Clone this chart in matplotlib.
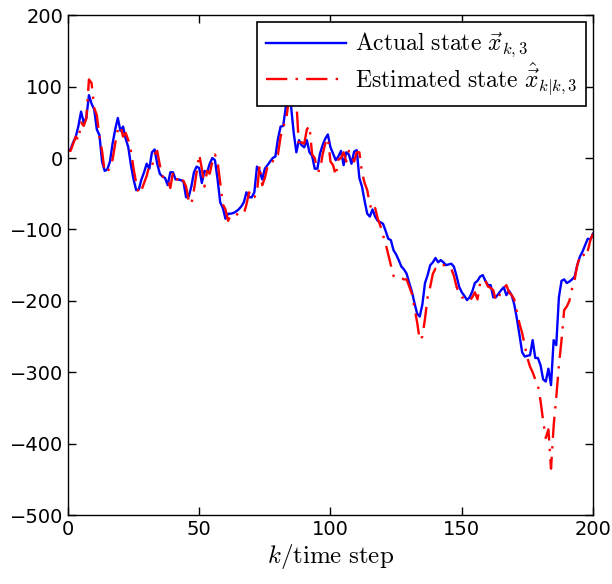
import numpy as np
import matplotlib
matplotlib.use("Agg")
import matplotlib.pyplot as plt

actual = [10, 12, 22, 30, 45, 65, 50, 56, 88, 76,
          68, 40, 32, -5, -18, -16, -5, 20, 40, 56,
          38, 44, 27, 15, -10, -30, -45, -44, -30, -20,
          -8, -15, 8, 12, -8, -22, -26, -28, -38, -20,
          -20, -30, -30, -31, -33, -55, -54, -40, -20, -12,
          -14, -35, -18, -20, -8, 0, -3, -30, -62, -70,
          -85, -78, -78, -77, -75, -72, -68, -62, -48, -55,
          -55, -48, -12, -18, -30, -15, -10, -5, 0, 2,
          27, 44, 45, 72, 82, 72, 35, 8, 25, 18,
          15, 25, 8, 3, -15, -15, 6, 18, 27, 33,
          15, 6, -3, 2, 10, -10, 8, 5, -8, 9,
          11, -28, -40, -60, -78, -82, -72, -82, -88, -90,
          -92, -102, -113, -115, -129, -135, -143, -152, -156, -162,
          -175, -187, -203, -218, -222, -205, -175, -164, -150, -146,
          -140, -146, -143, -146, -150, -149, -148, -152, -165, -180,
          -188, -193, -199, -195, -187, -175, -172, -166, -164, -172,
          -178, -178, -195, -195, -190, -185, -181, -192, -186, -192,
          -205, -225, -248, -272, -278, -277, -276, -255, -280, -280,
          -290, -310, -313, -295, -318, -255, -262, -195, -172, -170,
          -175, -173, -170, -166, -150, -138, -131, -122, -113, -114,
          -106]

estimated = [10, 10, 20, 30, 25, 50, 45, 55, 110, 105,
             70, 60, 30, 10, -20, -18, -15, -2, 20, 40,
             45, 30, 35, 25, 10, -15, -35, -50, -45, -35,
             -25, -10, -12, 5, 10, -10, -25, -30, -30, -42,
             -20, -22, -35, -30, -32, -40, -60, -65, -45, -20,
             5, -15, -40, -18, -22, -5, 5, -5, -35, -65,
             -72, -88, -80, -78, -78, -80, -80, -78, -65, -48,
             -57, -55, -48, -10, -38, -28, -12, -12, -5, 5,
             5, 30, 45, 50, 78, 86, 78, 80, 15, 22,
             20, 40, 45, 5, 0, -18, -18, 5, 20, 28,
             -5, -10, -25, -2, 0, 8, -5, 10, 5, -5,
             8, 8, -20, -35, -45, -65, -75, -70, -85, -95,
             -108, -120, -135, -150, -165, -168, -168, -168, -170, -170,
             -180, -190, -210, -230, -255, -250, -225, -195, -180, -162,
             -155, -155, -150, -150, -150, -152, -155, -165, -180, -190,
             -195, -196, -198, -200, -195, -188, -198, -175, -170, -172,
             -180, -182, -185, -200, -195, -187, -182, -178, -188, -192,
             -198, -215, -232, -245, -262, -280, -292, -300, -310, -318,
             -340, -368, -392, -380, -435, -375, -335, -290, -255, -213,
             -208, -200, -183, -170, -150, -138, -133, -139, -130, -115,
             -106]

steps = np.arange(len(actual))
xticks = [0, 50, 100, 150, 200]
yticks = [-500, -400, -300, -200, -100, 0, 100, 200]

plt.rcParams['mathtext.fontset'] = 'cm'

fig = plt.figure(figsize=(6.12, 5.84), dpi=100)
ax = fig.add_axes([0.111, 0.118, 0.858, 0.856])

ax.plot(steps, actual, color='#0000ff', lw=1.7, ls='-',
        label=r'$\mathrm{Actual\ state}\ \vec{x}_{k,3}$')
ax.plot(steps, estimated, color='#ff0000', lw=1.7, ls=(0, (9, 3.5, 1, 3.5)),
        label=r'$\mathrm{Estimated\ state}\ \hat{\vec{x}}_{k|k,3}$')

ax.set_xlim(0, 200)
ax.set_ylim(-500, 200)
ax.set_xticks(xticks)
ax.set_yticks(yticks)
ax.tick_params(direction='in', top=True, right=True, labelsize=14, length=6, width=1)
for s in ax.spines.values():
    s.set_linewidth(1.0)
ax.set_xlabel(r'$k/\mathrm{time\ step}$', fontsize=18, labelpad=2)

leg = ax.legend(loc='upper right', fontsize=17, frameon=True, fancybox=False,
                edgecolor='black', framealpha=1, borderaxespad=0.3,
                borderpad=0.35, handlelength=3.4, handletextpad=0.4,
                labelspacing=0.0)
leg.get_frame().set_linewidth(1.2)

fig.savefig('out.png', dpi=100)
